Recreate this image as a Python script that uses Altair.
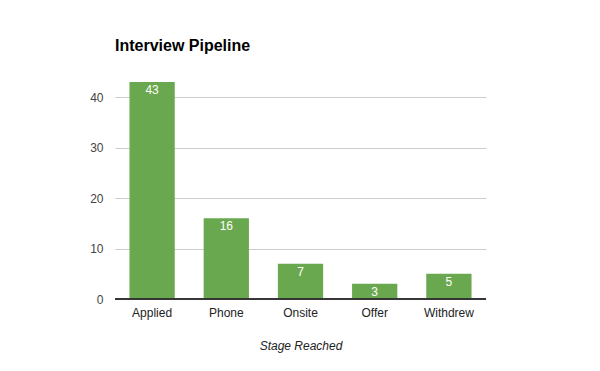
import altair as alt
import pandas as pd

stages = ["Applied", "Phone", "Onsite", "Offer", "Withdrew"]
counts = [43, 16, 7, 3, 5]
y_ticks = [0, 10, 20, 30, 40]

df = pd.DataFrame({"stage": stages, "count": counts})

FONT = "Liberation Sans"

x_enc = alt.X(
    "stage:N",
    sort=stages,
    title="Stage Reached",
    scale=alt.Scale(paddingInner=0.39, paddingOuter=0.195),
    axis=alt.Axis(
        labelAngle=0, ticks=False, domain=False, labelPadding=8,
        labelFontSize=12, labelColor="#222222", labelFont=FONT,
        titleFont=FONT, titleFontSize=12, titleFontStyle="italic",
        titleFontWeight="normal", titleColor="#222222", titlePadding=22,
    ),
)
y_scale = alt.Scale(domain=[0, 43], nice=False)

bars = alt.Chart(df).mark_bar(color="#6aa84f").encode(
    x=x_enc,
    y=alt.Y(
        "count:Q",
        scale=y_scale,
        title=None,
        axis=alt.Axis(
            values=y_ticks, ticks=False, domain=False, grid=True,
            gridColor="#cccccc", labelPadding=12, labelFontSize=12,
            labelColor="#444444", labelFont=FONT,
        ),
    ),
)

labels = alt.Chart(df).mark_text(
    color="white", baseline="top", dy=3, fontSize=12, font=FONT
).encode(
    x=alt.X("stage:N", sort=stages),
    y=alt.Y("count:Q", scale=y_scale),
    text="count:Q",
)

baseline = alt.Chart(df).mark_rule(color="#333333", strokeWidth=1).encode(
    y=alt.datum(0), x=alt.value(0), x2=alt.value(371)
)

chart = alt.layer(bars, baseline, labels).properties(
    width=371,
    height=217,
    title=alt.TitleParams(
        "Interview Pipeline", anchor="start", frame="group", font=FONT,
        fontSize=16, fontWeight="bold", color="#000000", offset=28,
    ),
    autosize=alt.AutoSizeParams(type="none"),
    padding={"left": 107, "top": 74, "right": 106, "bottom": 64},
).configure_view(stroke=None)

chart.save("out.html", embed_options={"renderer": "svg", "actions": False})
